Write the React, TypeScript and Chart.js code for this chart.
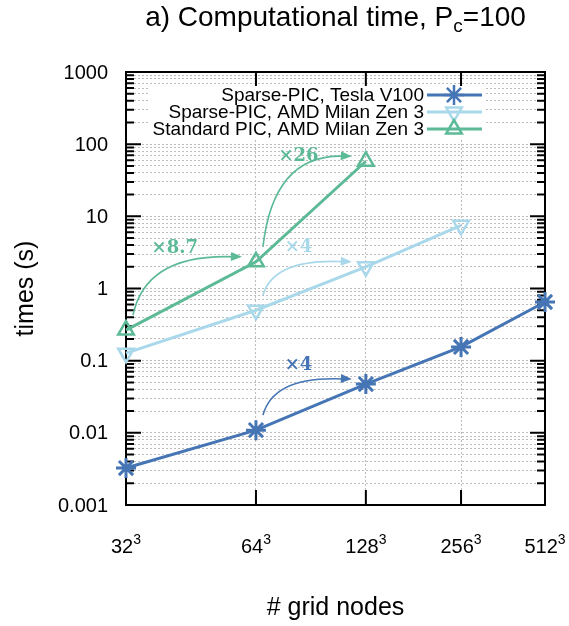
import React, { useEffect, useRef } from "react";
import { Chart, registerables } from "chart.js";

Chart.register(...registerables);

// ---------- data ----------
const gridEdges = [32, 64, 128, 256, 512];
const gridExponent = "3";
const sparseV100 = [0.00325, 0.0109, 0.0474, 0.155, 0.65];
const sparseAMD = [0.127, 0.5, 2.0, 7.5, null];
const standardAMD = [0.265, 2.34, 58, null, null];
const yTickValues = [0.001, 0.01, 0.1, 1, 10, 100, 1000];
const yTickLabels = ["0.001", "0.01", "0.1", "1", "10", "100", "1000"];
const seriesNames = [
  "Sparse-PIC, Tesla V100",
  "Sparse-PIC, AMD Milan Zen 3",
  "Standard PIC, AMD Milan Zen 3",
];
const speedupSeries = [2, 2, 1, 0];
const speedupFrom = [0, 1, 1, 1];
const speedupLabels = ["\u00d78.7", "\u00d726", "\u00d74", "\u00d74"];

const titleMain = "a) Computational time, P";
const titleSub = "c";
const titleEnd = "=100";
const yTitle = "times (s)";
const xTitle = "# grid nodes";

// ---------- styles ----------
const DARK = "#4575b4";
const LIGHT = "#a8d8ea";
const GREEN = "#5cba96";
const COLORS = [DARK, LIGHT, GREEN];
const STYLES = ["star", "triangle", "triangle"];
const ROTS = [0, 180, 0];
const SANS = "'Liberation Sans', Arial, sans-serif";
const SERIF = "'DejaVu Serif', serif";

const toPoints = (vals: (number | null)[]) =>
  gridEdges
    .map((e, i) => ({ x: Math.log2(e), y: vals[i] }))
    .filter((p) => p.y !== null) as { x: number; y: number }[];

function drawMarker(ctx: CanvasRenderingContext2D, style: string, x: number, y: number, r: number, rotDeg: number, color: string) {
  ctx.save();
  ctx.strokeStyle = color;
  ctx.lineWidth = 2.5;
  ctx.beginPath();
  if (style === "star") {
    for (let k = 0; k < 4; k++) {
      const a = (k * Math.PI) / 4;
      ctx.moveTo(x - Math.cos(a) * r, y - Math.sin(a) * r);
      ctx.lineTo(x + Math.cos(a) * r, y + Math.sin(a) * r);
    }
  } else {
    let rad = (rotDeg * Math.PI) / 180;
    for (let k = 0; k < 3; k++) {
      const px = x + Math.sin(rad) * r;
      const py = y - Math.cos(rad) * r;
      if (k === 0) ctx.moveTo(px, py);
      else ctx.lineTo(px, py);
      rad += (2 * Math.PI) / 3;
    }
    ctx.closePath();
  }
  ctx.stroke();
  ctx.restore();
}

const decorPlugin = {
  id: "decor",
  beforeDatasetsDraw(chart: any) {
    const { ctx, chartArea: ca, scales } = chart;
    const ys = scales.y;
    const xs = scales.x;
    ctx.save();
    // frame
    ctx.strokeStyle = "#000";
    ctx.lineWidth = 2;
    ctx.strokeRect(ca.left, ca.top, ca.right - ca.left, ca.bottom - ca.top);
    // y ticks (inward)
    ys.ticks.forEach((t: any) => {
      const py = ys.getPixelForValue(t.value);
      const major = yTickValues.some((v) => Math.abs(Math.log10(v) - Math.log10(t.value)) < 1e-6);
      const len = major ? 15 : 8;
      ctx.beginPath();
      ctx.moveTo(ca.left, py);
      ctx.lineTo(ca.left + len, py);
      ctx.moveTo(ca.right, py);
      ctx.lineTo(ca.right - len, py);
      ctx.stroke();
    });
    // x ticks (inward)
    gridEdges.forEach((e) => {
      const px = xs.getPixelForValue(Math.log2(e));
      ctx.beginPath();
      ctx.moveTo(px, ca.bottom);
      ctx.lineTo(px, ca.bottom - 15);
      ctx.moveTo(px, ca.top);
      ctx.lineTo(px, ca.top + 15);
      ctx.stroke();
    });
    // legend (opaque box)
    const boxL = 150, boxR = 485, boxT = 86, boxB = 139;
    ctx.fillStyle = "#fff";
    ctx.fillRect(boxL, boxT, boxR - boxL, boxB - boxT);
    ctx.font = `19px ${SANS}`;
    ctx.textAlign = "right";
    ctx.textBaseline = "middle";
    seriesNames.forEach((name, i) => {
      const y = 95 + i * 17;
      ctx.fillStyle = "#000";
      ctx.fillText(name, 424, y + 1);
      ctx.strokeStyle = COLORS[i];
      ctx.lineWidth = 3;
      ctx.beginPath();
      ctx.moveTo(427, y);
      ctx.lineTo(482, y);
      ctx.stroke();
      drawMarker(ctx, STYLES[i], 454, y, STYLES[i] === "star" ? 10 : 9, ROTS[i], COLORS[i]);
    });
    ctx.restore();
  },
  afterDatasetsDraw(chart: any) {
    const { ctx } = chart;
    ctx.save();
    speedupLabels.forEach((label, k) => {
      const s = speedupSeries[k];
      const i = speedupFrom[k];
      const meta = chart.getDatasetMeta(s);
      const p0 = meta.data[i];
      const p1 = meta.data[i + 1];
      const color = COLORS[s];
      const sx = p0.x + 7, sy = p0.y - 15;
      const ex = p1.x - 14, ey = p1.y - 5;
      const cx = sx + 0.12 * (ex - sx), cy = ey - 4;
      ctx.strokeStyle = color;
      ctx.fillStyle = color;
      ctx.lineWidth = 1.6;
      ctx.beginPath();
      ctx.moveTo(sx, sy);
      ctx.quadraticCurveTo(cx, cy, ex - 6, ey);
      ctx.stroke();
      // arrowhead
      const ang = Math.atan2(ey - cy, ex - cx);
      const L = 11, W = 4.5;
      ctx.beginPath();
      ctx.moveTo(ex, ey);
      ctx.lineTo(ex - L * Math.cos(ang) + W * Math.sin(ang), ey - L * Math.sin(ang) - W * Math.cos(ang));
      ctx.lineTo(ex - L * Math.cos(ang) - W * Math.sin(ang), ey - L * Math.sin(ang) + W * Math.cos(ang));
      ctx.closePath();
      ctx.fill();
      // label
      const mx = 0.25 * sx + 0.5 * cx + 0.25 * ex;
      const my = 0.25 * sy + 0.5 * cy + 0.25 * ey;
      ctx.font = `bold 18px ${SERIF}`;
      ctx.textAlign = "center";
      ctx.textBaseline = "middle";
      ctx.fillText(label, mx + 8, my - 21);
    });
    ctx.restore();
  },
  afterDraw(chart: any) {
    const { ctx, chartArea: ca, scales } = chart;
    const ys = scales.y;
    const xs = scales.x;
    ctx.save();
    ctx.fillStyle = "#000";
    // y tick labels
    ctx.font = `20px ${SANS}`;
    ctx.textAlign = "right";
    ctx.textBaseline = "middle";
    yTickValues.forEach((v, i) => {
      ctx.fillText(yTickLabels[i], ca.left - 18, ys.getPixelForValue(v) + 1);
    });
    // x tick labels with superscript
    ctx.textAlign = "left";
    ctx.textBaseline = "alphabetic";
    gridEdges.forEach((e) => {
      const px = xs.getPixelForValue(Math.log2(e));
      ctx.font = `20px ${SANS}`;
      const main = String(e);
      const wm = ctx.measureText(main).width;
      ctx.font = `14px ${SANS}`;
      const wsup = ctx.measureText(gridExponent).width;
      const x0 = px - (wm + wsup) / 2;
      ctx.font = `20px ${SANS}`;
      ctx.fillText(main, x0, 553);
      ctx.font = `14px ${SANS}`;
      ctx.fillText(gridExponent, x0 + wm, 544);
    });
    // axis titles
    ctx.font = `25px ${SANS}`;
    ctx.textAlign = "center";
    ctx.textBaseline = "middle";
    ctx.fillText(xTitle, (ca.left + ca.right) / 2, 608);
    ctx.save();
    ctx.translate(26, (ca.top + ca.bottom) / 2);
    ctx.rotate(-Math.PI / 2);
    ctx.fillText(yTitle, 0, 0);
    ctx.restore();
    // main title with subscript
    ctx.textAlign = "left";
    ctx.textBaseline = "alphabetic";
    ctx.font = `28px ${SANS}`;
    const w1 = ctx.measureText(titleMain).width;
    const w3 = ctx.measureText(titleEnd).width;
    ctx.font = `19px ${SANS}`;
    const w2 = ctx.measureText(titleSub).width;
    const tx = (ca.left + ca.right) / 2 - (w1 + w2 + w3) / 2;
    const tb = 26;
    ctx.font = `28px ${SANS}`;
    ctx.fillText(titleMain, tx, tb);
    ctx.font = `19px ${SANS}`;
    ctx.fillText(titleSub, tx + w1, tb + 6);
    ctx.font = `28px ${SANS}`;
    ctx.fillText(titleEnd, tx + w1 + w2, tb);
    ctx.restore();
  },
};

export default function App() {
  const ref = useRef<HTMLCanvasElement>(null);
  useEffect(() => {
    if (!ref.current) return;
    const seriesVals = [sparseV100, sparseAMD, standardAMD];
    const chart = new Chart(ref.current, {
      type: "line",
      data: {
        datasets: seriesVals.map((vals, i) => ({
          label: seriesNames[i],
          data: toPoints(vals),
          borderColor: COLORS[i],
          backgroundColor: "rgba(0,0,0,0)",
          borderWidth: 3,
          pointStyle: STYLES[i] as any,
          pointRotation: ROTS[i],
          pointRadius: STYLES[i] === "star" ? 10 : 9,
          pointBorderWidth: STYLES[i] === "star" ? 3 : 2.5,
          pointBackgroundColor: "rgba(0,0,0,0)",
          pointBorderColor: COLORS[i],
          tension: 0,
          clip: false as any,
        })),
      },
      options: {
        animation: false,
        responsive: false,
        devicePixelRatio: 1,
        layout: { padding: { left: 126, right: 24, top: 72, bottom: 121 } },
        plugins: { legend: { display: false }, tooltip: { enabled: false } },
        events: [],
        scales: {
          x: {
            type: "logarithmic",
            min: Math.log2(gridEdges[0]),
            max: Math.log2(gridEdges[gridEdges.length - 1]),
            afterBuildTicks: (scale: any) => {
              scale.ticks = gridEdges.map((e) => ({ value: Math.log2(e) }));
            },
            ticks: { display: false },
            grid: { color: "#bdbdbd", lineWidth: 1, drawTicks: false },
            border: { display: false, dash: [2, 2] },
          },
          y: {
            type: "logarithmic",
            min: yTickValues[0],
            max: yTickValues[yTickValues.length - 1],
            afterBuildTicks: (scale: any) => {
              const t: { value: number }[] = [];
              for (let i = 0; i < yTickValues.length - 1; i++) {
                for (let m = 1; m <= 9; m++) t.push({ value: yTickValues[i] * m });
              }
              t.push({ value: yTickValues[yTickValues.length - 1] });
              scale.ticks = t;
            },
            ticks: { display: false },
            grid: { color: "#bdbdbd", lineWidth: 1, drawTicks: false },
            border: { display: false, dash: [2, 2] },
          },
        },
      },
      plugins: [decorPlugin],
    });
    return () => chart.destroy();
  }, []);
  return (
    <div style={{ position: "absolute", left: 0, top: 0, width: 569, height: 626, background: "#fff" }}>
      <canvas ref={ref} width={569} height={626} style={{ display: "block" }} />
    </div>
  );
}
